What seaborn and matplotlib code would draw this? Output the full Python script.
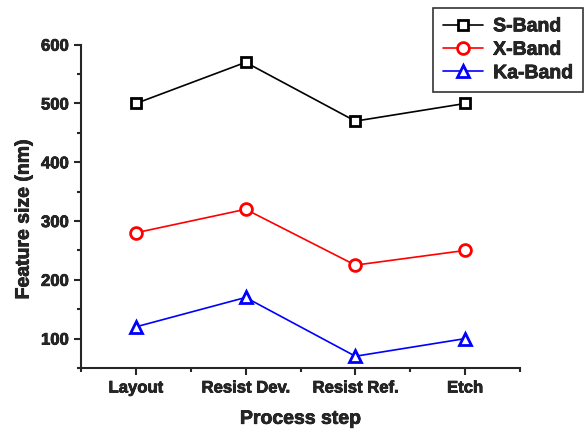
import matplotlib
matplotlib.use("Agg")
import matplotlib.pyplot as plt
from matplotlib.ticker import MultipleLocator, FixedLocator
import matplotlib.patheffects as pe
import seaborn as sns
import pandas as pd

steps = ["Layout", "Resist Dev.", "Resist Ref.", "Etch"]
s_band = [500, 570, 470, 500]
x_band = [280, 320, 225, 250]
ka_band = [120, 170, 70, 100]

sns.set_style("ticks")
plt.rcParams["font.family"] = ["Liberation Sans", "DejaVu Sans"]
plt.rcParams["font.weight"] = "bold"

heavy = [pe.withStroke(linewidth=0.5, foreground="black")]

fig = plt.figure(figsize=(5.87, 4.31), dpi=100)
ax = fig.add_axes([81 / 587, 1 - 369 / 431, 439 / 587, (369 - 45.7) / 431])

series = [
    ("S-Band", s_band, "black", "s", 7),
    ("X-Band", x_band, "red", "o", 8.5),
    ("Ka-Band", ka_band, "blue", "^", 9),
]
for name, vals, col, mk, ms in series:
    df = pd.DataFrame({"step": steps, "size": vals})
    sns.lineplot(data=df, x="step", y="size", ax=ax, color=col, marker=mk,
                 markersize=ms, markerfacecolor="white", markeredgecolor=col,
                 markeredgewidth=2.0, linewidth=1.2, label=name, sort=False)

ax.set_xlim(-0.5, 3.5)
ax.set_ylim(50, 600)
ax.yaxis.set_major_locator(MultipleLocator(100))
ax.yaxis.set_minor_locator(MultipleLocator(50))
ax.xaxis.set_minor_locator(FixedLocator([-0.5, 0.5, 1.5, 2.5, 3.5]))
ax.set_xticks(range(len(steps)))
ax.set_xticklabels(steps)
ax.tick_params(which="major", direction="out", length=5, width=1.5, labelsize=12, pad=4)
ax.tick_params(which="minor", direction="out", length=3, width=1.5)
for lab in ax.get_xticklabels() + ax.get_yticklabels():
    lab.set_fontweight("bold")
    lab.set_path_effects(heavy)

for side in ["top", "right"]:
    ax.spines[side].set_visible(False)
for side in ["left", "bottom"]:
    ax.spines[side].set_linewidth(1.5)

ax.set_xlabel("Process step", fontsize=14, fontweight="bold", labelpad=11,
              path_effects=heavy)
ax.set_ylabel("Feature size (nm)", fontsize=14, fontweight="bold", labelpad=6,
              path_effects=heavy)
ax.yaxis.label.set_y(0.46)

ax.get_legend().remove()
handles, labels = ax.get_legend_handles_labels()
leg = fig.legend(handles, labels, loc="upper right", bbox_to_anchor=(583 / 587, 1 - 9 / 431),
                 frameon=True, fancybox=False, edgecolor="black", fontsize=14,
                 handlelength=2.1, borderpad=0.5, labelspacing=0.3, handletextpad=0.5,
                 borderaxespad=0)
leg.get_frame().set_linewidth(1.2)
for t in leg.get_texts():
    t.set_fontweight("bold")
    t.set_path_effects(heavy)

fig.savefig("out.png", dpi=100)
